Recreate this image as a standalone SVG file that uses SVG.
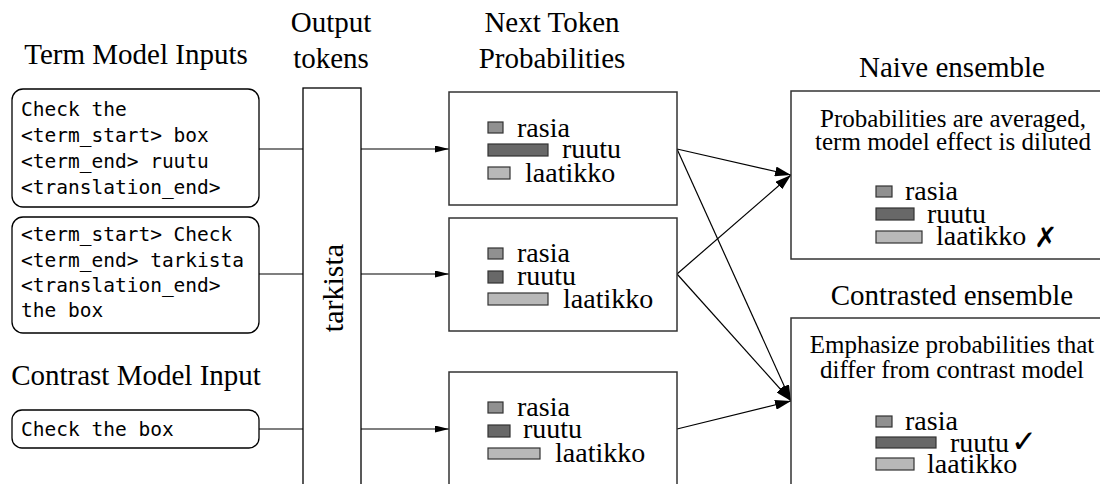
<svg xmlns="http://www.w3.org/2000/svg" width="1100" height="484" viewBox="0 0 1100 484">
  <style>
    .hdr { font-family: "Liberation Serif", "Times New Roman", serif; font-size: 29px; fill: #000; }
    .tok { font-family: "Liberation Serif", "Times New Roman", serif; font-size: 28px; fill: #000; }
    .desc { font-family: "Liberation Serif", "Times New Roman", serif; font-size: 25px; fill: #000; text-anchor: middle; }
    .mono { font-family: "DejaVu Sans Mono", "Liberation Mono", monospace; font-size: 19.5px; fill: #000; }
    .inbox { fill: #fff; stroke: #000; stroke-width: 1.3; }
    .box { fill: #fff; stroke: #333; stroke-width: 1.5; }
    .col { fill: #fff; stroke: #000; stroke-width: 1.3; }
    .line { fill: none; stroke: #000; stroke-width: 1.2; }
    .b1 { fill: #909090; stroke: #333; stroke-width: 1.2; }
    .b2 { fill: #686868; stroke: #333; stroke-width: 1.2; }
    .b3 { fill: #b8b8b8; stroke: #333; stroke-width: 1.2; }
    .sym { font-family: "DejaVu Sans", sans-serif; fill: #000; }
  </style>
  <defs>
    <marker id="arrow" viewBox="0 0 16 10" refX="16" refY="5" markerWidth="16" markerHeight="10" markerUnits="userSpaceOnUse" orient="auto">
      <path d="M0,0 L16,5 L0,10 Z" fill="#000"/>
    </marker>
    <marker id="arrowS" viewBox="0 0 14 7" refX="14" refY="3.5" markerWidth="14" markerHeight="7" markerUnits="userSpaceOnUse" orient="auto">
      <path d="M0,0 L14,3.5 L0,7 Z" fill="#000"/>
    </marker>
  </defs>

  <rect width="1100" height="484" fill="#fff"/>

  <!-- column headers -->
  <g id="headers">
    <text class="hdr" x="136" y="64" text-anchor="middle">Term Model Inputs</text>
    <text class="hdr" x="136" y="385" text-anchor="middle">Contrast Model Input</text>
    <text class="hdr" x="331" y="32" text-anchor="middle">Output</text>
    <text class="hdr" x="331" y="68" text-anchor="middle">tokens</text>
    <text class="hdr" x="552" y="32" text-anchor="middle">Next Token</text>
    <text class="hdr" x="552" y="68" text-anchor="middle">Probabilities</text>
    <text class="hdr" x="952" y="77" text-anchor="middle">Naive ensemble</text>
    <text class="hdr" x="952" y="305" text-anchor="middle">Contrasted ensemble</text>
  </g>

  <!-- connectors -->
  <g id="connectors">
    <line class="line" x1="259" y1="149" x2="303" y2="149"/>
    <line class="line" x1="259" y1="274" x2="303" y2="274"/>
    <line class="line" x1="259" y1="429" x2="303" y2="429"/>
    <line class="line" x1="361" y1="149" x2="449" y2="149" marker-end="url(#arrowS)"/>
    <line class="line" x1="361" y1="274" x2="449" y2="274" marker-end="url(#arrowS)"/>
    <line class="line" x1="361" y1="429" x2="449" y2="429" marker-end="url(#arrowS)"/>
    <line class="line" x1="677" y1="149" x2="791" y2="175" marker-end="url(#arrow)"/>
    <line class="line" x1="677" y1="149" x2="791" y2="401" marker-end="url(#arrow)"/>
    <line class="line" x1="677" y1="274" x2="791" y2="175" marker-end="url(#arrow)"/>
    <line class="line" x1="677" y1="274" x2="791" y2="401" marker-end="url(#arrow)"/>
    <line class="line" x1="677" y1="429" x2="791" y2="401" marker-end="url(#arrow)"/>
  </g>

  <!-- term model input 1 -->
  <g id="input-term-1">
    <rect class="inbox" x="12" y="89" width="247" height="118" rx="11"/>
    <text class="mono" x="21" y="116">Check the</text>
    <text class="mono" x="21" y="142">&lt;term_start&gt; box</text>
    <text class="mono" x="21" y="168">&lt;term_end&gt; ruutu</text>
    <text class="mono" x="21" y="194">&lt;translation_end&gt;</text>
  </g>

  <!-- term model input 2 -->
  <g id="input-term-2">
    <rect class="inbox" x="12" y="217" width="247" height="116" rx="11"/>
    <text class="mono" x="21" y="241">&lt;term_start&gt; Check</text>
    <text class="mono" x="21" y="267">&lt;term_end&gt; tarkista</text>
    <text class="mono" x="21" y="292">&lt;translation_end&gt;</text>
    <text class="mono" x="21" y="317">the box</text>
  </g>

  <!-- contrast model input -->
  <g id="input-contrast">
    <rect class="inbox" x="12" y="410" width="247" height="38" rx="10"/>
    <text class="mono" x="21" y="436">Check the box</text>
  </g>

  <!-- output token column -->
  <g id="output-tokens">
    <rect class="col" x="303" y="88" width="58" height="410"/>
    <text class="hdr" transform="translate(343,288) rotate(-90)" text-anchor="middle" style="font-size:30px">tarkista</text>
  </g>

  <!-- next token distributions -->
  <g id="probs-1">
    <rect class="box" x="449" y="92" width="228" height="113"/>
    <rect class="b1" x="488" y="122" width="15" height="11"/>
    <text class="tok" x="517" y="137">rasia</text>
    <rect class="b2" x="488" y="144" width="60" height="12"/>
    <text class="tok" x="562" y="158">ruutu</text>
    <rect class="b3" x="488" y="167" width="22" height="12"/>
    <text class="tok" x="525" y="182">laatikko</text>
  </g>

  <g id="probs-2">
    <rect class="box" x="449" y="218" width="228" height="113"/>
    <rect class="b1" x="488" y="248" width="15" height="11"/>
    <text class="tok" x="517" y="262">rasia</text>
    <rect class="b2" x="488" y="271" width="15" height="12"/>
    <text class="tok" x="517" y="285">ruutu</text>
    <rect class="b3" x="488" y="293" width="60" height="12"/>
    <text class="tok" x="563" y="308">laatikko</text>
  </g>

  <g id="probs-contrast">
    <rect class="box" x="449" y="372" width="228" height="120"/>
    <rect class="b1" x="488" y="402" width="15" height="11"/>
    <text class="tok" x="517" y="416">rasia</text>
    <rect class="b2" x="488" y="425" width="22" height="12"/>
    <text class="tok" x="523" y="438">ruutu</text>
    <rect class="b3" x="488" y="448" width="52" height="11"/>
    <text class="tok" x="555" y="462">laatikko</text>
  </g>

  <!-- ensembles -->
  <g id="naive-ensemble">
    <rect class="box" x="791" y="91" width="320" height="168"/>
    <text class="desc" x="953" y="127">Probabilities are averaged,</text>
    <text class="desc" x="953" y="150">term model effect is diluted</text>
    <rect class="b1" x="876" y="186" width="16" height="11"/>
    <text class="tok" x="905" y="200">rasia</text>
    <rect class="b2" x="876" y="208" width="38" height="12"/>
    <text class="tok" x="927" y="223">ruutu</text>
    <rect class="b3" x="876" y="231" width="46" height="12"/>
    <text class="tok" x="936" y="245">laatikko</text>
    <text class="sym" x="1034" y="247" style="font-size:28px;font-weight:bold">✗</text>
  </g>

  <g id="contrasted-ensemble">
    <rect class="box" x="791" y="318" width="320" height="180"/>
    <text class="desc" x="952" y="353">Emphasize probabilities that</text>
    <text class="desc" x="952" y="378">differ from contrast model</text>
    <rect class="b1" x="876" y="416" width="16" height="11"/>
    <text class="tok" x="905" y="430">rasia</text>
    <rect class="b2" x="876" y="437" width="60" height="11"/>
    <text class="tok" x="950" y="452">ruutu</text>
    <text class="sym" x="1011" y="452" style="font-size:31px">✓</text>
    <rect class="b3" x="876" y="458" width="38" height="12"/>
    <text class="tok" x="927" y="473">laatikko</text>
  </g>
</svg>
